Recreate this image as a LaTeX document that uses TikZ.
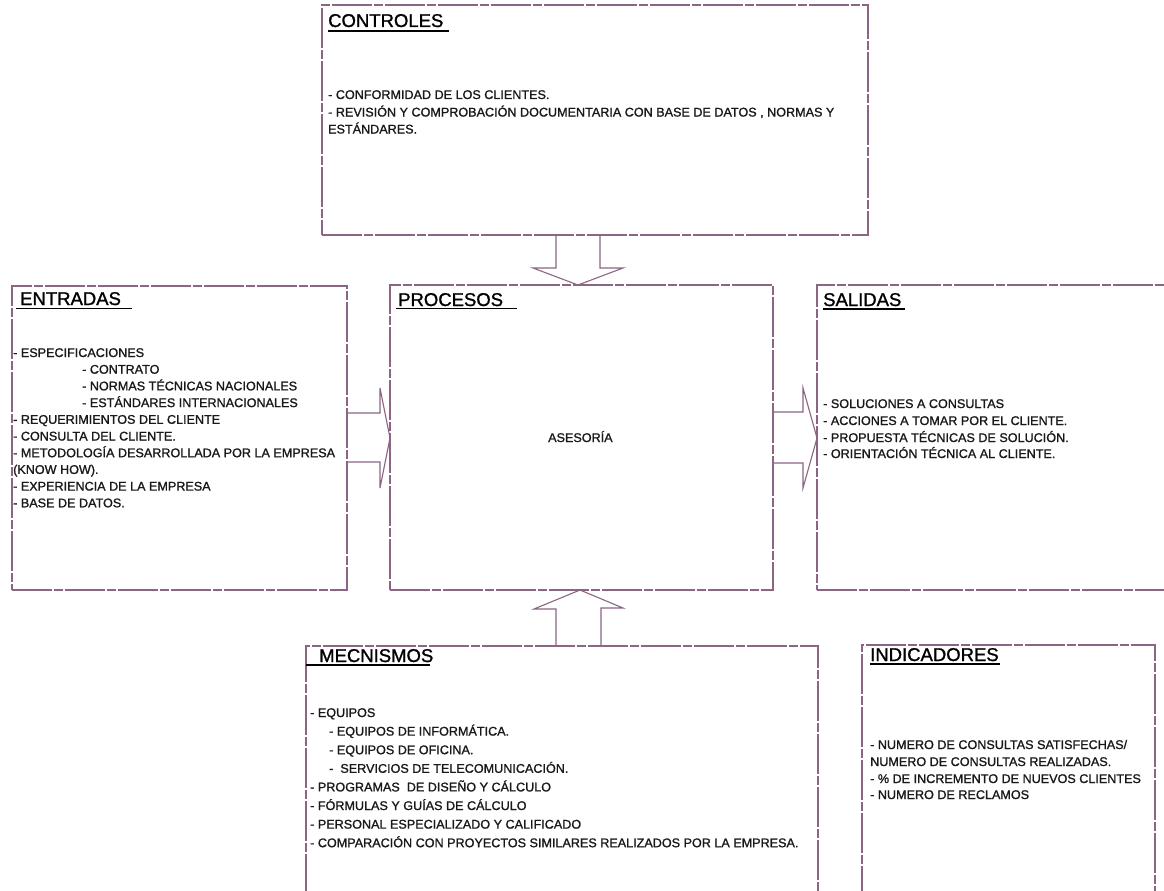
\documentclass[tikz,border=0pt]{standalone}
\usepackage{fontspec}
\setmainfont{Liberation Sans}
\newfontfamily\scanfont{Liberation Sans}[FakeBold=1.2]
\usetikzlibrary{calc}
\definecolor{frame}{RGB}{140,100,132}
\definecolor{ink}{RGB}{25,25,25}
\begin{document}
\begin{tikzpicture}[x=1pt,y=-1pt,
  box/.style={draw=frame, line width=1.2pt, rectangle, inner sep=0pt, outer sep=0pt, anchor=north west, dash pattern=on 40pt off 2pt on 9pt off 2pt},
  barrow/.style={draw=frame, line width=1.1pt, line join=miter},
  head/.style={font=\scanfont\fontsize{18.5}{22}\selectfont, text=black, anchor=base west, inner sep=0pt},
  txt/.style={font=\scanfont\fontsize{12.6}{15}\selectfont, text=ink, anchor=base west, inner sep=0pt},
  uline/.style={draw=black, line width=1.6pt}]
\useasboundingbox (0,0) rectangle (1164,891);
\fill[white] (0,0) rectangle (1164,891);

% boxes
\node[box, minimum width=546pt, minimum height=230pt] (ctrl) at (322,5) {};
\node[box, minimum width=335pt, minimum height=304pt] (ent) at (12,286) {};
\node[box, minimum width=383pt, minimum height=305pt] (proc) at (390,285) {};
\node[box, minimum width=360pt, minimum height=305pt] (sal) at (817,285) {};
\node[box, minimum width=512pt, minimum height=252pt] (mec) at (306,646) {};
\node[box, minimum width=293pt, minimum height=253pt] (ind) at (862,645) {};

% block arrows
\draw[barrow] ($(ctrl.south west)+(234,0)$) -- ++(0,33) -- ++(-23,0) -- ($(proc.north west)+(188,0)$) -- ++(45,-17) -- ++(-23,0) -- ($(ctrl.south west)+(278,0)$);
\draw[barrow] ($(ent.north east)+(0,127)$) -- ++(33,0) -- ++(0,-25) -- ($(proc.north west)+(0,153)$) -- ++(-10,50) -- ++(0,-26) -- ($(ent.north east)+(0,176)$);
\draw[barrow] ($(proc.north east)+(0,127)$) -- ++(30,0) -- ++(0,-24) -- ($(sal.north west)+(0,153)$) -- ++(-14,50) -- ++(0,-25) -- ($(proc.north east)+(0,178)$);
\draw[barrow] ($(mec.north west)+(250,0)$) -- ++(0,-37) -- ++(-22,0) -- ($(proc.south west)+(190,0)$) -- ++(43,18) -- ++(-22,0) -- ($(mec.north west)+(295,0)$);

% headings
\node[head] (hctrl) at (328,27) {CONTROLES};
\draw[uline] (328,31) -- (449,31);
\node[head] (hent) at (20,305) {ENTRADAS};
\draw[uline] (16,308.5) -- (132,308.5);
\node[head] (hproc) at (398,306) {PROCESOS};
\draw[uline] (396,308.5) -- (517,308.5);
\node[head] (hsal) at (823,306) {SALIDAS};
\draw[uline] (823,309) -- (905,309);
\node[head] (hmec) at (319,662) {MECNISMOS};
\draw[uline] (306,665) -- (430,665);
\node[head] (hind) at (870,661) {INDICADORES};
\draw[uline] (870,664) -- (1000,664);

% CONTROLES text
\node[txt] (c1) at (328,99) {- CONFORMIDAD DE LOS CLIENTES.};
\node[txt] (c2) at (328,116.5) {- REVISIÓN Y COMPROBACIÓN DOCUMENTARIA CON BASE DE DATOS , NORMAS Y};
\node[txt] (c3) at (328,133.5) {ESTÁNDARES.};

% ENTRADAS text
\node[txt] (e1) at (13,357) {- ESPECIFICACIONES};
\node[txt] (e2) at (82,373.7) {- CONTRATO};
\node[txt] (e3) at (82,390.4) {- NORMAS TÉCNICAS NACIONALES};
\node[txt] (e4) at (82,407.1) {- ESTÁNDARES INTERNACIONALES};
\node[txt] (e5) at (13,423.8) {- REQUERIMIENTOS DEL CLIENTE};
\node[txt] (e6) at (13,440.5) {- CONSULTA DEL CLIENTE.};
\node[txt] (e7) at (13,457.2) {- METODOLOGÍA DESARROLLADA POR LA EMPRESA};
\node[txt] (e8) at (13,473.9) {(KNOW HOW).};
\node[txt] (e9) at (13,490.6) {- EXPERIENCIA DE LA EMPRESA};
\node[txt] (e10) at (13,507.3) {- BASE DE DATOS.};

% PROCESOS text
\node[txt] (p1) at (548,442) {ASESORÍA};

% SALIDAS text
\node[txt] (s1) at (823,408) {- SOLUCIONES A CONSULTAS};
\node[txt] (s2) at (823,425) {- ACCIONES A TOMAR POR EL CLIENTE.};
\node[txt] (s3) at (823,442) {- PROPUESTA TÉCNICAS DE SOLUCIÓN.};
\node[txt] (s4) at (823,458) {- ORIENTACIÓN TÉCNICA AL CLIENTE.};

% MECNISMOS text
\node[txt] (m1) at (310,717) {- EQUIPOS};
\node[txt] (m2) at (329,735.6) {- EQUIPOS DE INFORMÁTICA.};
\node[txt] (m3) at (329,754.2) {- EQUIPOS DE OFICINA.};
\node[txt] (m4) at (329,772.8) {-\ \ SERVICIOS DE TELECOMUNICACIÓN.};
\node[txt] (m5) at (310,791.4) {- PROGRAMAS\ \ DE DISEÑO Y CÁLCULO};
\node[txt] (m6) at (310,810) {- FÓRMULAS Y GUÍAS DE CÁLCULO};
\node[txt] (m7) at (310,828.6) {- PERSONAL ESPECIALIZADO Y CALIFICADO};
\node[txt] (m8) at (310,847.2) {- COMPARACIÓN CON PROYECTOS SIMILARES REALIZADOS POR LA EMPRESA.};

% INDICADORES text
\node[txt] (i1) at (870,749) {- NUMERO DE CONSULTAS SATISFECHAS/};
\node[txt] (i2) at (870,766) {NUMERO DE CONSULTAS REALIZADAS.};
\node[txt] (i3) at (870,783) {- \% DE INCREMENTO DE NUEVOS CLIENTES};
\node[txt] (i4) at (870,799) {- NUMERO DE RECLAMOS};
\end{tikzpicture}
\end{document}
